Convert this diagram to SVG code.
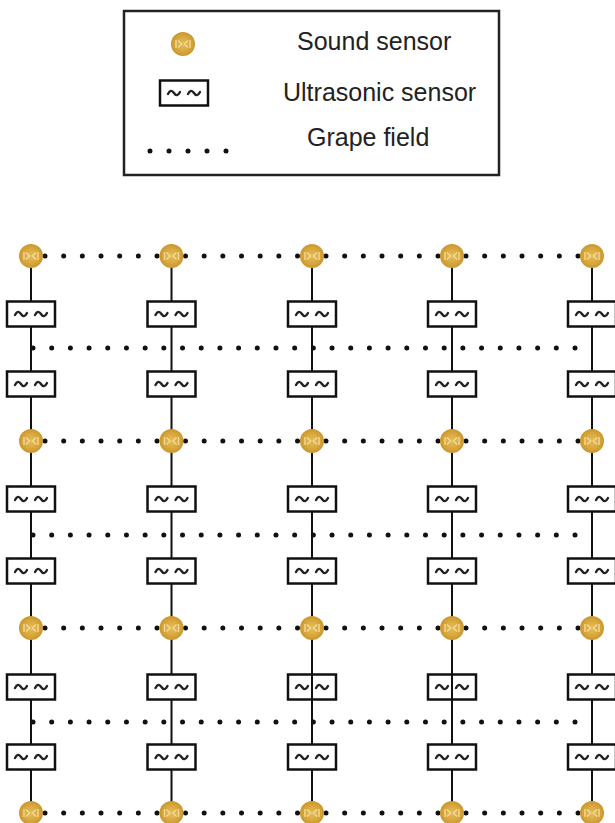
<svg xmlns="http://www.w3.org/2000/svg" xmlns:xlink="http://www.w3.org/1999/xlink" width="615" height="823" viewBox="0 0 615 823">
<style>
.lbl{font-family:"Liberation Sans",Arial,sans-serif;font-size:25px;fill:#222}
.vline{stroke:#111;stroke-width:2;fill:none}
.dots{stroke:#111;stroke-width:5;stroke-linecap:round;stroke-dasharray:0 18.67;fill:none}
.dots2{stroke:#111;stroke-width:5;stroke-linecap:round;stroke-dasharray:0 18.69;fill:none}
.box{fill:#fff;stroke:#111;stroke-width:2.5}
.box.open{fill:none}
.tl{fill:none;stroke:#222;stroke-width:2.4;stroke-linecap:round}
</style>
<defs>
<radialGradient id="gold" cx="50%" cy="50%" r="50%">
<stop offset="0" stop-color="#E6BF5C"/>
<stop offset="0.7" stop-color="#D6A53A"/>
<stop offset="1" stop-color="#C9962E"/>
</radialGradient>
<g id="snd">
<circle r="12" fill="url(#gold)"/>
<path d="M-7,-4 L-7,4 M7,-4 L7,4 M-5,-3.5 L-1.5,0 L-5,3.5 M5,-3.5 L1.5,0 L5,3.5" fill="none" stroke="#F4DC9E" stroke-width="1.3"/>
</g>
<g id="tld">
<path class="tl" d="M-16,1 C-14,-3 -12,-3 -10,0 S-6,3 -4,-1 M4,1 C6,-3 8,-3 10,0 S14,3 16,-1"/>
</g>
<g id="us">
<rect class="box" x="-24" y="-12.5" width="48" height="25"/>
<use xlink:href="#tld"/>
</g>
<g id="uso">
<rect class="box open" x="-24" y="-12.5" width="48" height="25"/>
<use xlink:href="#tld"/>
</g>
</defs>
<rect width="615" height="823" fill="#fff"/>

<g id="legend">
<rect x="124" y="11" width="375" height="164" fill="#fff" stroke="#222" stroke-width="2.5"/>
<use xlink:href="#snd" x="183" y="44"/>
<use xlink:href="#us" x="184" y="93"/>
<line class="dots" x1="150" y1="151" x2="226.5" y2="151" style="stroke-dasharray:0 19"/>
<text class="lbl" x="297" y="50">Sound sensor</text>
<text class="lbl" x="283" y="101">Ultrasonic sensor</text>
<text class="lbl" x="307" y="146">Grape field</text>
</g>

<g id="connectors">
<line class="vline" x1="31" y1="256" x2="31" y2="813"/>
<line class="vline" x1="171.5" y1="256" x2="171.5" y2="813"/>
<line class="vline" x1="312" y1="256" x2="312" y2="813"/>
<line class="vline" x1="452" y1="256" x2="452" y2="813"/>
<line class="vline" x1="592" y1="256" x2="592" y2="813"/>
<g id="field-rows">
<line class="dots" x1="45" y1="256" x2="157.1" y2="256"/>
<line class="dots" x1="185.5" y1="256" x2="297.6" y2="256"/>
<line class="dots" x1="326" y1="256" x2="438.1" y2="256"/>
<line class="dots" x1="466" y1="256" x2="578.1" y2="256"/>
<line class="dots2" x1="33" y1="348" x2="575.1" y2="348"/>
<line class="dots" x1="45" y1="441" x2="157.1" y2="441"/>
<line class="dots" x1="185.5" y1="441" x2="297.6" y2="441"/>
<line class="dots" x1="326" y1="441" x2="438.1" y2="441"/>
<line class="dots" x1="466" y1="441" x2="578.1" y2="441"/>
<line class="dots2" x1="33" y1="535" x2="575.1" y2="535"/>
<line class="dots" x1="45" y1="628" x2="157.1" y2="628"/>
<line class="dots" x1="185.5" y1="628" x2="297.6" y2="628"/>
<line class="dots" x1="326" y1="628" x2="438.1" y2="628"/>
<line class="dots" x1="466" y1="628" x2="578.1" y2="628"/>
<line class="dots2" x1="33" y1="722" x2="575.1" y2="722"/>
<line class="dots" x1="45" y1="813" x2="157.1" y2="813"/>
<line class="dots" x1="185.5" y1="813" x2="297.6" y2="813"/>
<line class="dots" x1="326" y1="813" x2="438.1" y2="813"/>
<line class="dots" x1="466" y1="813" x2="578.1" y2="813"/>
</g>
</g>

<g id="col1">
<g id="s1a"><use xlink:href="#snd" x="31" y="256"/></g>
<g id="u1a"><use xlink:href="#us" x="31" y="314"/></g>
<g id="u1b"><use xlink:href="#us" x="31" y="384"/></g>
<g id="s1b"><use xlink:href="#snd" x="31" y="441"/></g>
<g id="u1c"><use xlink:href="#us" x="31" y="499"/></g>
<g id="u1d"><use xlink:href="#us" x="31" y="571"/></g>
<g id="s1c"><use xlink:href="#snd" x="31" y="628"/></g>
<g id="u1e"><use xlink:href="#us" x="31" y="687"/></g>
<g id="u1f"><use xlink:href="#us" x="31" y="757"/></g>
<g id="s1d"><use xlink:href="#snd" x="31" y="813"/></g>
</g>
<g id="col2">
<g id="s2a"><use xlink:href="#snd" x="171.5" y="256"/></g>
<g id="u2a"><use xlink:href="#us" x="171.5" y="314"/></g>
<g id="u2b"><use xlink:href="#us" x="171.5" y="384"/></g>
<g id="s2b"><use xlink:href="#snd" x="171.5" y="441"/></g>
<g id="u2c"><use xlink:href="#us" x="171.5" y="499"/></g>
<g id="u2d"><use xlink:href="#us" x="171.5" y="571"/></g>
<g id="s2c"><use xlink:href="#snd" x="171.5" y="628"/></g>
<g id="u2e"><use xlink:href="#us" x="171.5" y="687"/></g>
<g id="u2f"><use xlink:href="#us" x="171.5" y="757"/></g>
<g id="s2d"><use xlink:href="#snd" x="171.5" y="813"/></g>
</g>
<g id="col3">
<g id="s3a"><use xlink:href="#snd" x="312" y="256"/></g>
<g id="u3a"><use xlink:href="#us" x="312" y="314"/></g>
<g id="u3b"><use xlink:href="#us" x="312" y="384"/></g>
<g id="s3b"><use xlink:href="#snd" x="312" y="441"/></g>
<g id="u3c"><use xlink:href="#us" x="312" y="499"/></g>
<g id="u3d"><use xlink:href="#us" x="312" y="571"/></g>
<g id="s3c"><use xlink:href="#snd" x="312" y="628"/></g>
<g id="u3e"><use xlink:href="#uso" x="312" y="687"/></g>
<g id="u3f"><use xlink:href="#us" x="312" y="757"/></g>
<g id="s3d"><use xlink:href="#snd" x="312" y="813"/></g>
</g>
<g id="col4">
<g id="s4a"><use xlink:href="#snd" x="452" y="256"/></g>
<g id="u4a"><use xlink:href="#us" x="452" y="314"/></g>
<g id="u4b"><use xlink:href="#us" x="452" y="384"/></g>
<g id="s4b"><use xlink:href="#snd" x="452" y="441"/></g>
<g id="u4c"><use xlink:href="#us" x="452" y="499"/></g>
<g id="u4d"><use xlink:href="#us" x="452" y="571"/></g>
<g id="s4c"><use xlink:href="#snd" x="452" y="628"/></g>
<g id="u4e"><use xlink:href="#uso" x="452" y="687"/></g>
<g id="u4f"><use xlink:href="#us" x="452" y="757"/></g>
<g id="s4d"><use xlink:href="#snd" x="452" y="813"/></g>
</g>
<g id="col5">
<g id="s5a"><use xlink:href="#snd" x="592" y="256"/></g>
<g id="u5a"><use xlink:href="#us" x="592" y="314"/></g>
<g id="u5b"><use xlink:href="#us" x="592" y="384"/></g>
<g id="s5b"><use xlink:href="#snd" x="592" y="441"/></g>
<g id="u5c"><use xlink:href="#us" x="592" y="499"/></g>
<g id="u5d"><use xlink:href="#us" x="592" y="571"/></g>
<g id="s5c"><use xlink:href="#snd" x="592" y="628"/></g>
<g id="u5e"><use xlink:href="#us" x="592" y="687"/></g>
<g id="u5f"><use xlink:href="#us" x="592" y="757"/></g>
<g id="s5d"><use xlink:href="#snd" x="592" y="813"/></g>
</g>
</svg>
